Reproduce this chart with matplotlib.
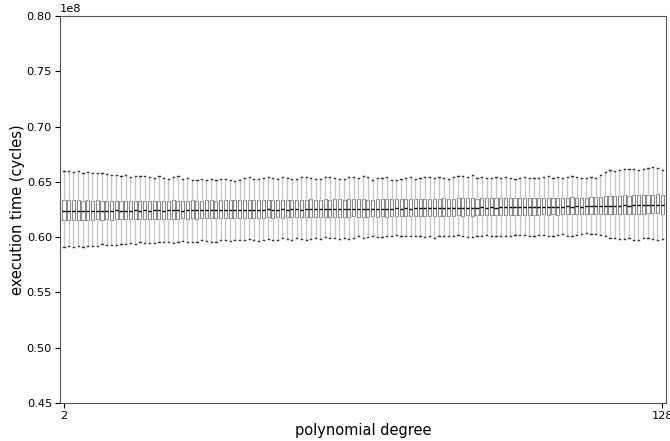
import matplotlib
matplotlib.use("Agg")
import matplotlib.pyplot as plt

degrees = list(range(2, 129))

whisker_high = [
    0.6598, 0.6594, 0.6592, 0.6595, 0.6578, 0.6586, 0.6582, 0.6576, 0.6580, 0.6570, 0.6566, 0.6560, 0.6552, 0.6558, 0.6545, 0.6555,
    0.6550, 0.6553, 0.6544, 0.6538, 0.6550, 0.6532, 0.6525, 0.6548, 0.6555, 0.6528, 0.6535, 0.6520, 0.6515, 0.6522, 0.6518, 0.6525,
    0.6520, 0.6530, 0.6528, 0.6518, 0.6512, 0.6520, 0.6535, 0.6540, 0.6528, 0.6525, 0.6532, 0.6545, 0.6538, 0.6530, 0.6542, 0.6535,
    0.6528, 0.6530, 0.6540, 0.6548, 0.6532, 0.6522, 0.6530, 0.6542, 0.6545, 0.6536, 0.6530, 0.6528, 0.6540, 0.6548, 0.6532, 0.6555,
    0.6540, 0.6518, 0.6532, 0.6538, 0.6540, 0.6518, 0.6520, 0.6528, 0.6534, 0.6540, 0.6528, 0.6534, 0.6542, 0.6548, 0.6532, 0.6545,
    0.6538, 0.6528, 0.6545, 0.6550, 0.6556, 0.6545, 0.6562, 0.6538, 0.6545, 0.6538, 0.6532, 0.6547, 0.6538, 0.6544, 0.6538, 0.6530,
    0.6538, 0.6547, 0.6538, 0.6538, 0.6532, 0.6544, 0.6556, 0.6538, 0.6547, 0.6538, 0.6544, 0.6556, 0.6547, 0.6538, 0.6538, 0.6540,
    0.6538, 0.6560, 0.6585, 0.6605, 0.6598, 0.6610, 0.6612, 0.6616, 0.6612, 0.6605, 0.6620, 0.6626, 0.6632, 0.6628, 0.6610,
]

q3 = [
    0.6336, 0.6334, 0.6335, 0.6332, 0.6328, 0.6333, 0.6330, 0.6332, 0.6329, 0.6331, 0.6328, 0.6330, 0.6327, 0.6329, 0.6326, 0.6330,
    0.6328, 0.6330, 0.6327, 0.6331, 0.6329, 0.6326, 0.6330, 0.6332, 0.6329, 0.6327, 0.6331, 0.6333, 0.6330, 0.6328, 0.6332, 0.6334,
    0.6331, 0.6333, 0.6335, 0.6332, 0.6334, 0.6336, 0.6333, 0.6335, 0.6337, 0.6334, 0.6336, 0.6338, 0.6335, 0.6337, 0.6339, 0.6336,
    0.6338, 0.6340, 0.6337, 0.6339, 0.6341, 0.6338, 0.6340, 0.6342, 0.6339, 0.6341, 0.6343, 0.6340, 0.6342, 0.6344, 0.6341, 0.6343,
    0.6340, 0.6338, 0.6342, 0.6344, 0.6341, 0.6343, 0.6345, 0.6342, 0.6344, 0.6346, 0.6343, 0.6345, 0.6347, 0.6344, 0.6346, 0.6348,
    0.6350, 0.6347, 0.6349, 0.6351, 0.6353, 0.6350, 0.6352, 0.6349, 0.6351, 0.6353, 0.6350, 0.6352, 0.6354, 0.6351, 0.6353, 0.6355,
    0.6352, 0.6354, 0.6356, 0.6353, 0.6355, 0.6357, 0.6354, 0.6356, 0.6358, 0.6355, 0.6357, 0.6359, 0.6356, 0.6358, 0.6357, 0.6359,
    0.6362, 0.6365, 0.6370, 0.6375, 0.6372, 0.6376, 0.6378, 0.6375, 0.6378, 0.6380, 0.6377, 0.6382, 0.6385, 0.6388, 0.6380,
]

medians = [
    0.6240, 0.6238, 0.6236, 0.6239, 0.6235, 0.6238, 0.6236, 0.6240, 0.6237, 0.6239, 0.6236, 0.6241, 0.6238, 0.6240, 0.6237, 0.6242,
    0.6239, 0.6243, 0.6240, 0.6244, 0.6241, 0.6239, 0.6243, 0.6245, 0.6242, 0.6240, 0.6244, 0.6246, 0.6243, 0.6241, 0.6245, 0.6247,
    0.6244, 0.6246, 0.6248, 0.6245, 0.6247, 0.6249, 0.6246, 0.6248, 0.6250, 0.6247, 0.6249, 0.6251, 0.6248, 0.6250, 0.6252, 0.6249,
    0.6251, 0.6253, 0.6250, 0.6252, 0.6254, 0.6251, 0.6253, 0.6255, 0.6252, 0.6254, 0.6256, 0.6253, 0.6255, 0.6257, 0.6254, 0.6256,
    0.6257, 0.6255, 0.6258, 0.6256, 0.6259, 0.6257, 0.6260, 0.6258, 0.6261, 0.6259, 0.6262, 0.6260, 0.6263, 0.6261, 0.6264, 0.6262,
    0.6265, 0.6263, 0.6266, 0.6264, 0.6267, 0.6265, 0.6268, 0.6266, 0.6269, 0.6267, 0.6270, 0.6268, 0.6271, 0.6269, 0.6272, 0.6270,
    0.6273, 0.6271, 0.6274, 0.6272, 0.6275, 0.6273, 0.6276, 0.6274, 0.6277, 0.6275, 0.6278, 0.6276, 0.6279, 0.6277, 0.6280, 0.6278,
    0.6281, 0.6279, 0.6283, 0.6281, 0.6285, 0.6283, 0.6287, 0.6285, 0.6289, 0.6287, 0.6291, 0.6289, 0.6293, 0.6295, 0.6294,
]

q1 = [
    0.6155, 0.6157, 0.6154, 0.6158, 0.6156, 0.6159, 0.6157, 0.6160, 0.6158, 0.6161, 0.6159, 0.6162, 0.6160, 0.6163, 0.6161, 0.6164,
    0.6162, 0.6165, 0.6163, 0.6166, 0.6164, 0.6167, 0.6165, 0.6168, 0.6166, 0.6169, 0.6167, 0.6170, 0.6168, 0.6171, 0.6169, 0.6172,
    0.6170, 0.6173, 0.6171, 0.6174, 0.6172, 0.6175, 0.6173, 0.6176, 0.6174, 0.6177, 0.6175, 0.6178, 0.6176, 0.6179, 0.6177, 0.6180,
    0.6178, 0.6181, 0.6179, 0.6182, 0.6180, 0.6183, 0.6181, 0.6184, 0.6182, 0.6185, 0.6183, 0.6186, 0.6184, 0.6187, 0.6185, 0.6186,
    0.6184, 0.6187, 0.6185, 0.6188, 0.6186, 0.6189, 0.6187, 0.6190, 0.6188, 0.6191, 0.6189, 0.6192, 0.6190, 0.6193, 0.6191, 0.6194,
    0.6192, 0.6195, 0.6193, 0.6196, 0.6194, 0.6197, 0.6195, 0.6198, 0.6196, 0.6199, 0.6197, 0.6200, 0.6198, 0.6201, 0.6199, 0.6202,
    0.6200, 0.6203, 0.6201, 0.6204, 0.6202, 0.6205, 0.6203, 0.6206, 0.6204, 0.6207, 0.6205, 0.6208, 0.6206, 0.6207, 0.6205, 0.6208,
    0.6206, 0.6209, 0.6207, 0.6210, 0.6208, 0.6211, 0.6209, 0.6212, 0.6210, 0.6213, 0.6211, 0.6214, 0.6216, 0.6215, 0.6213,
]

whisker_low = [
    0.5914, 0.5920, 0.5911, 0.5917, 0.5911, 0.5923, 0.5920, 0.5920, 0.5935, 0.5932, 0.5929, 0.5929, 0.5941, 0.5938, 0.5944, 0.5941,
    0.5953, 0.5950, 0.5947, 0.5944, 0.5953, 0.5959, 0.5953, 0.5950, 0.5959, 0.5965, 0.5959, 0.5953, 0.5959, 0.5971, 0.5965, 0.5953,
    0.5959, 0.5974, 0.5971, 0.5965, 0.5971, 0.5977, 0.5971, 0.5983, 0.5977, 0.5965, 0.5971, 0.5983, 0.5977, 0.5974, 0.5989, 0.5983,
    0.5977, 0.5995, 0.5983, 0.5971, 0.5983, 0.5989, 0.5983, 0.6004, 0.5989, 0.5995, 0.5983, 0.5989, 0.5983, 0.5995, 0.6007, 0.5989,
    0.6004, 0.6013, 0.6004, 0.6004, 0.6007, 0.6013, 0.6019, 0.6013, 0.6007, 0.6013, 0.6013, 0.6010, 0.6004, 0.6013, 0.5995, 0.6010,
    0.6013, 0.6010, 0.6010, 0.6019, 0.6010, 0.6004, 0.6004, 0.6013, 0.6010, 0.6019, 0.6013, 0.6010, 0.6013, 0.6013, 0.6010, 0.6019,
    0.6019, 0.6016, 0.6013, 0.6013, 0.6016, 0.6016, 0.6013, 0.6007, 0.6019, 0.6025, 0.6013, 0.6010, 0.6019, 0.6025, 0.6034, 0.6025,
    0.6025, 0.6019, 0.6007, 0.5995, 0.5989, 0.5983, 0.5983, 0.5989, 0.5977, 0.5977, 0.5989, 0.5995, 0.5983, 0.5977, 0.5983,
]

y_ticks = [0.45, 0.50, 0.55, 0.60, 0.65, 0.70, 0.75, 0.80]

SCALE = 1e8
stats = []
for lo, a, m, b, hi in zip(whisker_low, q1, medians, q3, whisker_high):
    stats.append(dict(whislo=lo * SCALE, q1=a * SCALE, med=m * SCALE,
                      q3=b * SCALE, whishi=hi * SCALE, fliers=[]))

fig = plt.figure(figsize=(6.7, 4.41), dpi=100)
ax = fig.add_axes([60 / 670, 38 / 441, 606 / 670, 387 / 441])

ax.bxp(stats, positions=degrees, widths=0.65, showfliers=False,
       boxprops=dict(color="#8a8a8a", linewidth=0.8),
       whiskerprops=dict(color="#c4c4c4", linewidth=0.9),
       capprops=dict(color="#333333", linewidth=1.0),
       capwidths=0.25,
       medianprops=dict(color="black", linewidth=1.0))

ax.set_xlim(1.16, 128.8)
ax.set_ylim(0.45e8, 0.80e8)
ax.set_yticks([v * SCALE for v in y_ticks])
ax.ticklabel_format(axis="y", style="sci", scilimits=(8, 8))
ax.yaxis.get_offset_text().set_fontsize(8.2)
ax.set_xticks([2, 128])
ax.set_xticklabels(["2", "128"])
ax.tick_params(axis="both", labelsize=8.2, length=3.5, width=0.8, pad=2.2)
ax.set_xlabel("polynomial degree", fontsize=10.5, labelpad=1.5)
ax.set_ylabel("execution time (cycles)", fontsize=10.5, labelpad=1)
for s in ax.spines.values():
    s.set_color("#555555")

fig.savefig("out.png", dpi=100)
